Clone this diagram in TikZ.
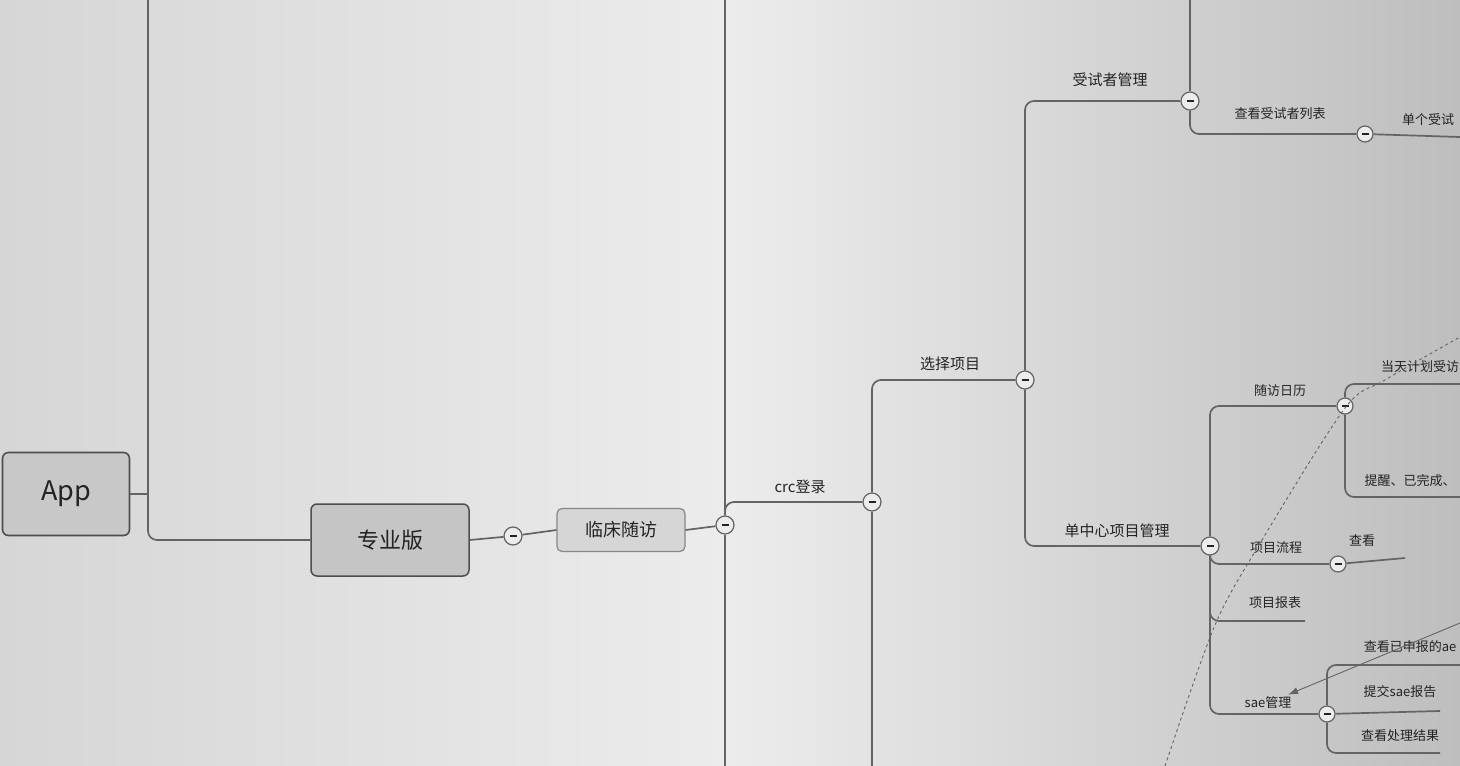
\documentclass[tikz,border=0pt]{standalone}
\usepackage{fontspec}
\usepackage{tikz}
\usetikzlibrary{shapes,arrows,arrows.meta,positioning}
\newfontfamily\cjk{Noto Sans CJK SC}
\definecolor{bgleft}{RGB}{214,214,214}
\definecolor{bgmid}{RGB}{236,236,236}
\definecolor{bgright}{RGB}{190,190,190}
\definecolor{edgegray}{RGB}{100,100,100}
\definecolor{boxdark}{RGB}{78,78,78}
\definecolor{boxlight}{RGB}{135,135,135}
\definecolor{boxfill}{RGB}{200,200,200}
\definecolor{subfill}{RGB}{214,214,214}
\definecolor{ink}{RGB}{35,35,35}
\tikzstyle{root} = [rectangle, rounded corners=6pt, draw=boxdark, line width=1.6pt, fill=boxfill, text=ink, font=\cjk\fontsize{27}{29}\selectfont, minimum width=127pt, minimum height=83pt]
\tikzstyle{main} = [rectangle, rounded corners=6pt, draw=boxdark, line width=1.5pt, fill=boxfill!105, text=ink, font=\cjk\fontsize{22}{24}\selectfont, minimum width=158pt, minimum height=72pt]
\tikzstyle{sub} = [rectangle, rounded corners=5pt, draw=boxlight, line width=1.2pt, fill=subfill, text=ink, font=\cjk\fontsize{18}{20}\selectfont, minimum width=128pt, minimum height=43pt]
\tikzstyle{fold} = [circle, draw=edgegray, line width=1.2pt, fill=bgmid, minimum size=18pt, inner sep=0pt, path picture={\draw[ink, line width=1.6pt] ([xshift=-3.5pt]path picture bounding box.center) -- ([xshift=3.5pt]path picture bounding box.center);}]
\tikzstyle{textonly} = [draw=none, fill=none, text=ink, font=\cjk\fontsize{15}{17}\selectfont, inner sep=1pt]
\tikzstyle{smalltext} = [draw=none, fill=none, text=ink, font=\cjk\fontsize{13}{15}\selectfont, inner sep=1pt]
\tikzstyle{tedge} = [draw=edgegray, line width=1.7pt, rounded corners=9pt]
\tikzstyle{link} = [draw=edgegray, line width=0.9pt, dashed]

\begin{document}
\begin{tikzpicture}[auto, x=1pt, y=-1pt]

% background =============================
\shade[left color=bgleft, right color=bgright, middle color=bgmid] (0,0) rectangle (1460,766);
\useasboundingbox (0,0) rectangle (1460,766);

% nodes
\node[root] (app) at (66,494) {App};
\node[main] (pro) at (390,540) {专业版};
\node[fold] (c1) at (513,536) {};
\node[sub] (visit) at (621,530) {临床随访};
\node[fold] (c2) at (725,525) {};
\node[fold] (c3) at (872,502) {};
\node[fold] (c4) at (1025,380) {};
\node[fold] (c5) at (1190,101) {};
\node[fold] (c6) at (1210,546) {};
\node[fold, minimum size=16pt] (c7) at (1365,134) {};
\node[fold, minimum size=16pt] (c8) at (1345,406) {};
\node[fold, minimum size=16pt] (c9) at (1327,714) {};
\node[fold, minimum size=16pt] (c10) at (1338,564) {};

% labels
\node[textonly] (crc) at (800,487) {crc登录};
\node[textonly] (pick) at (950,364) {选择项目};
\node[textonly] (subj) at (1110,80) {受试者管理};
\node[textonly] (single) at (1117,531) {单中心项目管理};
\node[smalltext] (list) at (1280,114) {查看受试者列表};
\node[smalltext] (one) at (1428,120) {单个受试};
\node[smalltext] (cal) at (1280,391) {随访日历};
\node[smalltext] (today) at (1420,367) {当天计划受访};
\node[smalltext] (remind) at (1410,481) {提醒、已完成、};
\node[smalltext] (flow) at (1276,548) {项目流程};
\node[smalltext] (look) at (1362,541) {查看};
\node[smalltext] (report) at (1275,603) {项目报表};
\node[smalltext] (sae) at (1268,703) {sae管理};
\node[smalltext] (ae) at (1410,647) {查看已申报的ae};
\node[smalltext] (submit) at (1400,692) {提交sae报告};
\node[smalltext] (result) at (1400,736) {查看处理结果};

% free ends
\coordinate (t1) at (148,0);
\coordinate (t2top) at (725,0);
\coordinate (t2bot) at (725,766);
\coordinate (t3bot) at (872,766);
\coordinate (t5top) at (1190,0);
\coordinate (e7) at (1460,137);
\coordinate (e8a) at (1460,384);
\coordinate (e8b) at (1460,497);
\coordinate (e9a) at (1460,665);
\coordinate (e9b) at (1440,711);
\coordinate (e9c) at (1440,753);
\coordinate (e10) at (1405,558);
\coordinate (e11) at (1305,621);
\coordinate (sae0) at (1460,623);

% edges
\path[tedge] (app.east) -- (app.east -| t1);
\path[tedge] (t1) |- (pro.west);
\path[tedge] (pro.east) -- (c1);
\path[tedge] (c1) -- (visit.west);
\path[tedge] (visit.east) -- (c2);
\path[tedge] (t2top) -- (c2);
\path[tedge] (c2) -- (t2bot);
\path[tedge] (c2) |- (c3);
\path[tedge] (c3) -- (t3bot);
\path[tedge] (c3) |- (c4);
\path[tedge] (c4) |- (c5);
\path[tedge] (c4) |- (c6);
\path[tedge] (t5top) -- (c5);
\path[tedge] (c5) |- (c7);
\path[tedge] (c7) -- (e7);
\path[tedge] (c6) |- (c8);
\path[tedge] (c6) |- (c10);
\path[tedge] (c6) |- (e11);
\path[tedge] (c6) |- (c9);
\path[tedge] (c10) -- (e10);
\path[tedge] (c8) |- (e8a);
\path[tedge] (c8) |- (e8b);
\path[tedge] (c9) |- (e9a);
\path[tedge] (c9) -- (e9b);
\path[tedge] (c9) |- (e9c);

% relations
\draw[link] plot[smooth] coordinates {(1165,766) (1215,625) (1262,540) (1345,408) (1385,380) (1460,337)};
\draw[draw=edgegray, line width=0.9pt, -{Latex[length=10pt, width=7pt]}, shorten >=3pt] (sae0) -- (sae);

\end{tikzpicture}
\end{document}
